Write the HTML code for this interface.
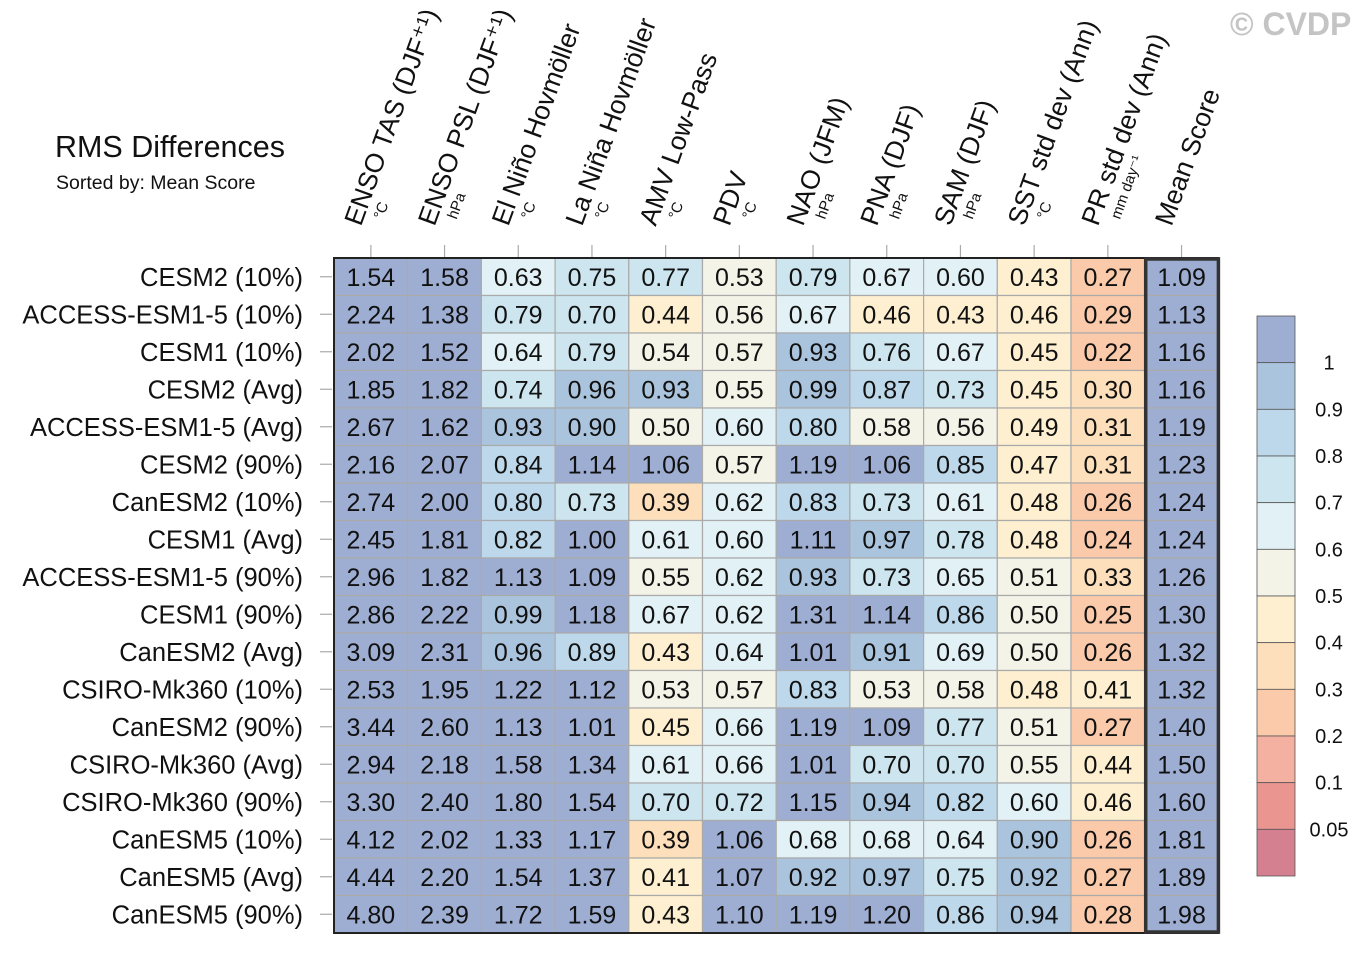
<!DOCTYPE html>
<html><head><meta charset="utf-8"><style>
body{margin:0;background:#fff;}
svg{display:block;font-family:"Liberation Sans",Arial,sans-serif;}
</style></head><body>
<svg id="chart" width="1370" height="954" viewBox="0 0 1370 954">
<text x="55" y="157" font-size="30.5" fill="#111">RMS Differences</text>
<text x="56" y="189" font-size="19.5" fill="#111">Sorted by: Mean Score</text>
<text x="1230" y="35" font-size="32" font-weight="bold" fill="#c4c4c4">© CVDP</text>
<g id="heat"></g>
<g id="cbar"></g>
</svg>
<script>
const columns=["ENSO TAS (DJF⁺¹)","ENSO PSL (DJF⁺¹)","El Niño Hovmöller","La Niña Hovmöller","AMV Low-Pass","PDV","NAO (JFM)","PNA (DJF)","SAM (DJF)","SST std dev (Ann)","PR std dev (Ann)","Mean Score"];
const units=["°C","hPa","°C","°C","°C","°C","hPa","hPa","hPa","°C","mm day⁻¹",""];
const rows=["CESM2 (10%)","ACCESS-ESM1-5 (10%)","CESM1 (10%)","CESM2 (Avg)","ACCESS-ESM1-5 (Avg)","CESM2 (90%)","CanESM2 (10%)","CESM1 (Avg)","ACCESS-ESM1-5 (90%)","CESM1 (90%)","CanESM2 (Avg)","CSIRO-Mk360 (10%)","CanESM2 (90%)","CSIRO-Mk360 (Avg)","CSIRO-Mk360 (90%)","CanESM5 (10%)","CanESM5 (Avg)","CanESM5 (90%)"];
const values=[
[1.54,1.58,0.63,0.75,0.77,0.53,0.79,0.67,0.60,0.43,0.27,1.09],
[2.24,1.38,0.79,0.70,0.44,0.56,0.67,0.46,0.43,0.46,0.29,1.13],
[2.02,1.52,0.64,0.79,0.54,0.57,0.93,0.76,0.67,0.45,0.22,1.16],
[1.85,1.82,0.74,0.96,0.93,0.55,0.99,0.87,0.73,0.45,0.30,1.16],
[2.67,1.62,0.93,0.90,0.50,0.60,0.80,0.58,0.56,0.49,0.31,1.19],
[2.16,2.07,0.84,1.14,1.06,0.57,1.19,1.06,0.85,0.47,0.31,1.23],
[2.74,2.00,0.80,0.73,0.39,0.62,0.83,0.73,0.61,0.48,0.26,1.24],
[2.45,1.81,0.82,1.00,0.61,0.60,1.11,0.97,0.78,0.48,0.24,1.24],
[2.96,1.82,1.13,1.09,0.55,0.62,0.93,0.73,0.65,0.51,0.33,1.26],
[2.86,2.22,0.99,1.18,0.67,0.62,1.31,1.14,0.86,0.50,0.25,1.30],
[3.09,2.31,0.96,0.89,0.43,0.64,1.01,0.91,0.69,0.50,0.26,1.32],
[2.53,1.95,1.22,1.12,0.53,0.57,0.83,0.53,0.58,0.48,0.41,1.32],
[3.44,2.60,1.13,1.01,0.45,0.66,1.19,1.09,0.77,0.51,0.27,1.40],
[2.94,2.18,1.58,1.34,0.61,0.66,1.01,0.70,0.70,0.55,0.44,1.50],
[3.30,2.40,1.80,1.54,0.70,0.72,1.15,0.94,0.82,0.60,0.46,1.60],
[4.12,2.02,1.33,1.17,0.39,1.06,0.68,0.68,0.64,0.90,0.26,1.81],
[4.44,2.20,1.54,1.37,0.41,1.07,0.92,0.97,0.75,0.92,0.27,1.89],
[4.80,2.39,1.72,1.59,0.43,1.10,1.19,1.20,0.86,0.94,0.28,1.98]];
const levels=[1,0.9,0.8,0.7,0.6,0.5,0.4,0.3,0.2,0.1,0.05];
const levelLabels=["1","0.9","0.8","0.7","0.6","0.5","0.4","0.3","0.2","0.1","0.05"];
const colors=["#9eaed3","#abc4dd","#bdd8ea","#cce5ef","#e2f1f5","#f3f3e8","#fdefd0","#fde0bb","#fbcaaa","#f4b0a0","#ea9590","#d58090"];
const NS="http://www.w3.org/2000/svg";
const X0=334,Y0=258,CW=73.7,RH=37.5;
const xPos=i=>X0+i*CW, yPos=j=>Y0+j*RH;
function colorFor(v){for(let k=0;k<levels.length;k++){if(v>=levels[k])return colors[k];}return colors[colors.length-1];}
function mk(tag,attrs,parent){const e=document.createElementNS(NS,tag);for(const k in attrs)e.setAttribute(k,attrs[k]);parent.appendChild(e);return e;}
const g=document.getElementById('heat');
rows.forEach((r,j)=>{
  const t=mk('text',{x:303,y:yPos(j)+RH/2+9,'text-anchor':'end','font-size':25.5,fill:'#111'},g);
  t.textContent=r;
  
  
  const tk=mk('line',{x1:320,x2:332,y1:yPos(j)+RH/2,y2:yPos(j)+RH/2,stroke:'#aaa','stroke-width':1.2},g);
  
  
  values[j].forEach((v,i)=>{
    const c=mk('rect',{x:xPos(i),y:yPos(j),width:CW,height:RH,fill:colorFor(v),stroke:'#aaa','stroke-width':1.2},g);
    
    
    const vt=mk('text',{x:xPos(i)+CW/2,y:yPos(j)+RH/2+9,'text-anchor':'middle','font-size':25,fill:'#111'},g);
    vt.textContent=v.toFixed(2);
    
    
  });
});
columns.forEach((c,i)=>{
  const cx=xPos(i)+CW/2;
  const tk=mk('line',{x1:cx,x2:cx,y1:245,y2:Y0,stroke:'#aaa','stroke-width':1.2},g);
  
  
  const t=mk('text',{transform:`translate(${cx-10},227) rotate(-70)`,'font-size':26.5,fill:'#111'},g);
  t.textContent=c;
  
  
  if(units[i]){
    const u=mk('text',{transform:`translate(${cx+12},220) rotate(-70)`,'font-size':15,fill:'#111'},g);
    u.textContent=units[i];
    
    
  }
});
const ob=mk('rect',{x:X0,y:Y0,width:CW*columns.length,height:RH*rows.length,fill:'none',stroke:'#222','stroke-width':2},g);


const mb=mk('rect',{x:xPos(11)+1,y:Y0+1,width:CW-1,height:RH*rows.length-2,fill:'none',stroke:'#333','stroke-width':3.5},g);


const cb=document.getElementById('cbar');
const CBX=1257,CBY=316,CBW=38,CBH=560/colors.length;
colors.forEach((col,k)=>{
  const r=mk('rect',{x:CBX,y:CBY+k*CBH,width:CBW,height:CBH,fill:col,stroke:'#555','stroke-width':0.8},cb);
  
  
});
levelLabels.forEach((l,k)=>{
  const t=mk('text',{x:1329,y:CBY+(k+1)*CBH+7,'text-anchor':'middle','font-size':20,fill:'#111'},cb);
  t.textContent=l;
  
  
});
</script>
</body></html>
